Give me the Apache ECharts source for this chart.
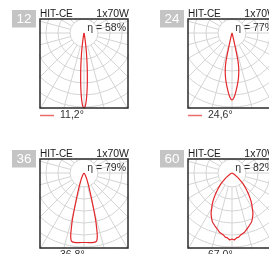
<!DOCTYPE html>
<html>
<head>
<meta charset="utf-8">
<script src="https://cdn.jsdelivr.net/npm/echarts@6/dist/echarts.min.js"></script>
<style>
  html, body { margin: 0; padding: 0; background: #fff; overflow: hidden; }
  #page { position: absolute; left: 0; top: 0; width: 269px; height: 254px; }
  .box { position: absolute; width: 90px; height: 91px; }
</style>
</head>
<body>
<div id="page"></div>
<div class="box" id="box0"></div>
<div class="box" id="box1"></div>
<div class="box" id="box2"></div>
<div class="box" id="box3"></div>
<script>
// labels
const panelNumbers = ['12', '24', '36', '60'];
const lampName = 'HIT-CE';
const lampPower = '1x70W';
const efficiency = ['η = 58%', 'η = 77%', 'η = 79%', 'η = 82%'];
const beamLabels = ['11,2°', '24,6°', '36,8°', '67,0°'];

// light distribution (angle from nadir, relative intensity), symmetric
const angles12 = [0, 1, 2, 3, 4, 5, 6, 7, 8, 9, 10, 12, 15];
const intensity12 = [75, 73, 67, 58, 48, 38, 28, 20, 13, 7, 3, 1, 0];

const angles24 = [0, 2, 4, 6, 8, 10, 11, 12, 12.5, 13, 14, 15, 17];
const intensity24 = [67, 64, 58, 52, 46, 39, 35, 29, 22, 14, 6, 2, 0];

const angles36 = [0, 4, 8, 10, 11, 12, 13, 14, 15.5, 17, 19, 21, 24, 28, 35, 45];
const intensity36 = [69.5, 69.7, 70, 69.5, 68, 64, 56, 48, 33, 23, 16, 11, 7, 3.5, 1, 0];

const angles60 = [0, 2, 4, 6, 8, 10, 12, 14, 16, 18, 20, 22, 24, 26, 28, 30, 32, 34, 36, 38, 40, 42, 44, 46, 48, 50, 52, 55, 60, 65, 75];
const intensity60 = [66, 67, 65, 64.5, 62.5, 61.5, 60.5, 58.5, 57, 55.5, 54, 52.5, 50, 47.5, 44.5, 40.5, 37.5, 34, 30.5, 27, 23.5, 20.5, 17.5, 15, 12, 9.5, 7.5, 5, 2.5, 1, 0];

const curves = [
  [angles12, intensity12],
  [angles24, intensity24],
  [angles36, intensity36],
  [angles60, intensity60]
];

const offsets = [[0, 0], [148, 0], [0, 140], [148, 140]];
const FONT = '"Liberation Sans", Arial, sans-serif';
const RED = '#e3262a';

// mirror one half of the curve around the nadir
function mirrored(angles, values) {
  const pts = [];
  for (let i = angles.length - 1; i >= 1; i--) pts.push([values[i], 360 - angles[i]]);
  for (let i = 0; i < angles.length; i++) pts.push([values[i], angles[i]]);
  return pts;
}

// page chart: titles, number tags, legend
const page = echarts.init(document.getElementById('page'));
const elements = [];
offsets.forEach(([ox, oy], i) => {
  elements.push(
    { type: 'rect', shape: { x: 12 + ox, y: 10 + oy, width: 24, height: 17.5 }, style: { fill: '#c4c4c4' } },
    { type: 'text', style: { text: panelNumbers[i], x: 24 + ox, y: 19 + oy, fill: '#fff', font: '13.5px ' + FONT, align: 'center', verticalAlign: 'middle' } },
    { type: 'text', style: { text: lampName, x: 40 + ox, y: 14 + oy, fill: '#1a1a1a', font: '10px ' + FONT, align: 'left', verticalAlign: 'middle' } },
    { type: 'text', style: { text: lampPower, x: 129 + ox, y: 14 + oy, fill: '#1a1a1a', font: '10.5px ' + FONT, align: 'right', verticalAlign: 'middle' } },
    { type: 'line', shape: { x1: 40 + ox, y1: 115.5 + oy, x2: 54 + ox, y2: 115.5 + oy }, style: { stroke: '#ec6a6a', lineWidth: 1.5 } },
    { type: 'text', style: { text: beamLabels[i], x: 60 + ox, y: 115.5 + oy, fill: '#333', font: '10.5px ' + FONT, align: 'left', verticalAlign: 'middle' } }
  );
});
page.setOption({ animation: false, graphic: { elements: elements } });

// polar boxes
offsets.forEach(([ox, oy], i) => {
  const el = document.getElementById('box' + i);
  el.style.left = (39 + ox) + 'px';
  el.style.top = (18 + oy) + 'px';
  const chart = echarts.init(el);
  const center = [45, 15];
  chart.setOption({
    animation: false,
    polar: [
      { center: center, radius: [14, 110] },
      { center: center, radius: 100 }
    ],
    angleAxis: [
      {
        polarIndex: 0, type: 'value', min: 0, max: 360, interval: 15, startAngle: 270,
        axisLine: { show: false }, axisTick: { show: false }, axisLabel: { show: false },
        splitLine: { show: true, lineStyle: { color: '#d4d4d4', width: 1 } }
      },
      {
        polarIndex: 1, type: 'value', min: 0, max: 360, startAngle: 270,
        axisLine: { show: false }, axisTick: { show: false }, axisLabel: { show: false }, splitLine: { show: false }
      }
    ],
    radiusAxis: [
      {
        polarIndex: 0, type: 'value', min: 0, max: 8, interval: 1,
        axisLine: { show: false }, axisTick: { show: false }, axisLabel: { show: false },
        splitLine: { show: true, lineStyle: { color: '#d4d4d4', width: 1 } }
      },
      {
        polarIndex: 1, type: 'value', min: 0, max: 100,
        axisLine: { show: false }, axisTick: { show: false }, axisLabel: { show: false }, splitLine: { show: false }
      }
    ],
    series: [{
      type: 'line',
      coordinateSystem: 'polar',
      polarIndex: 1,
      data: mirrored(curves[i][0], curves[i][1]),
      showSymbol: false,
      smooth: i === 3 ? false : 0.2,
      lineStyle: { color: RED, width: 1.2 },
      z: 5
    }],
    graphic: {
      elements: [
        { type: 'text', z: 10, style: { text: efficiency[i], x: 87, y: 5, fill: '#333', font: '10.5px ' + FONT, align: 'right', verticalAlign: 'top' } },
        { type: 'rect', z: 20, shape: { x: 1, y: 1, width: 88, height: 89 }, style: { fill: null, stroke: '#2b2b2b', lineWidth: 1.5 } }
      ]
    }
  });
});
</script>
</body>
</html>
